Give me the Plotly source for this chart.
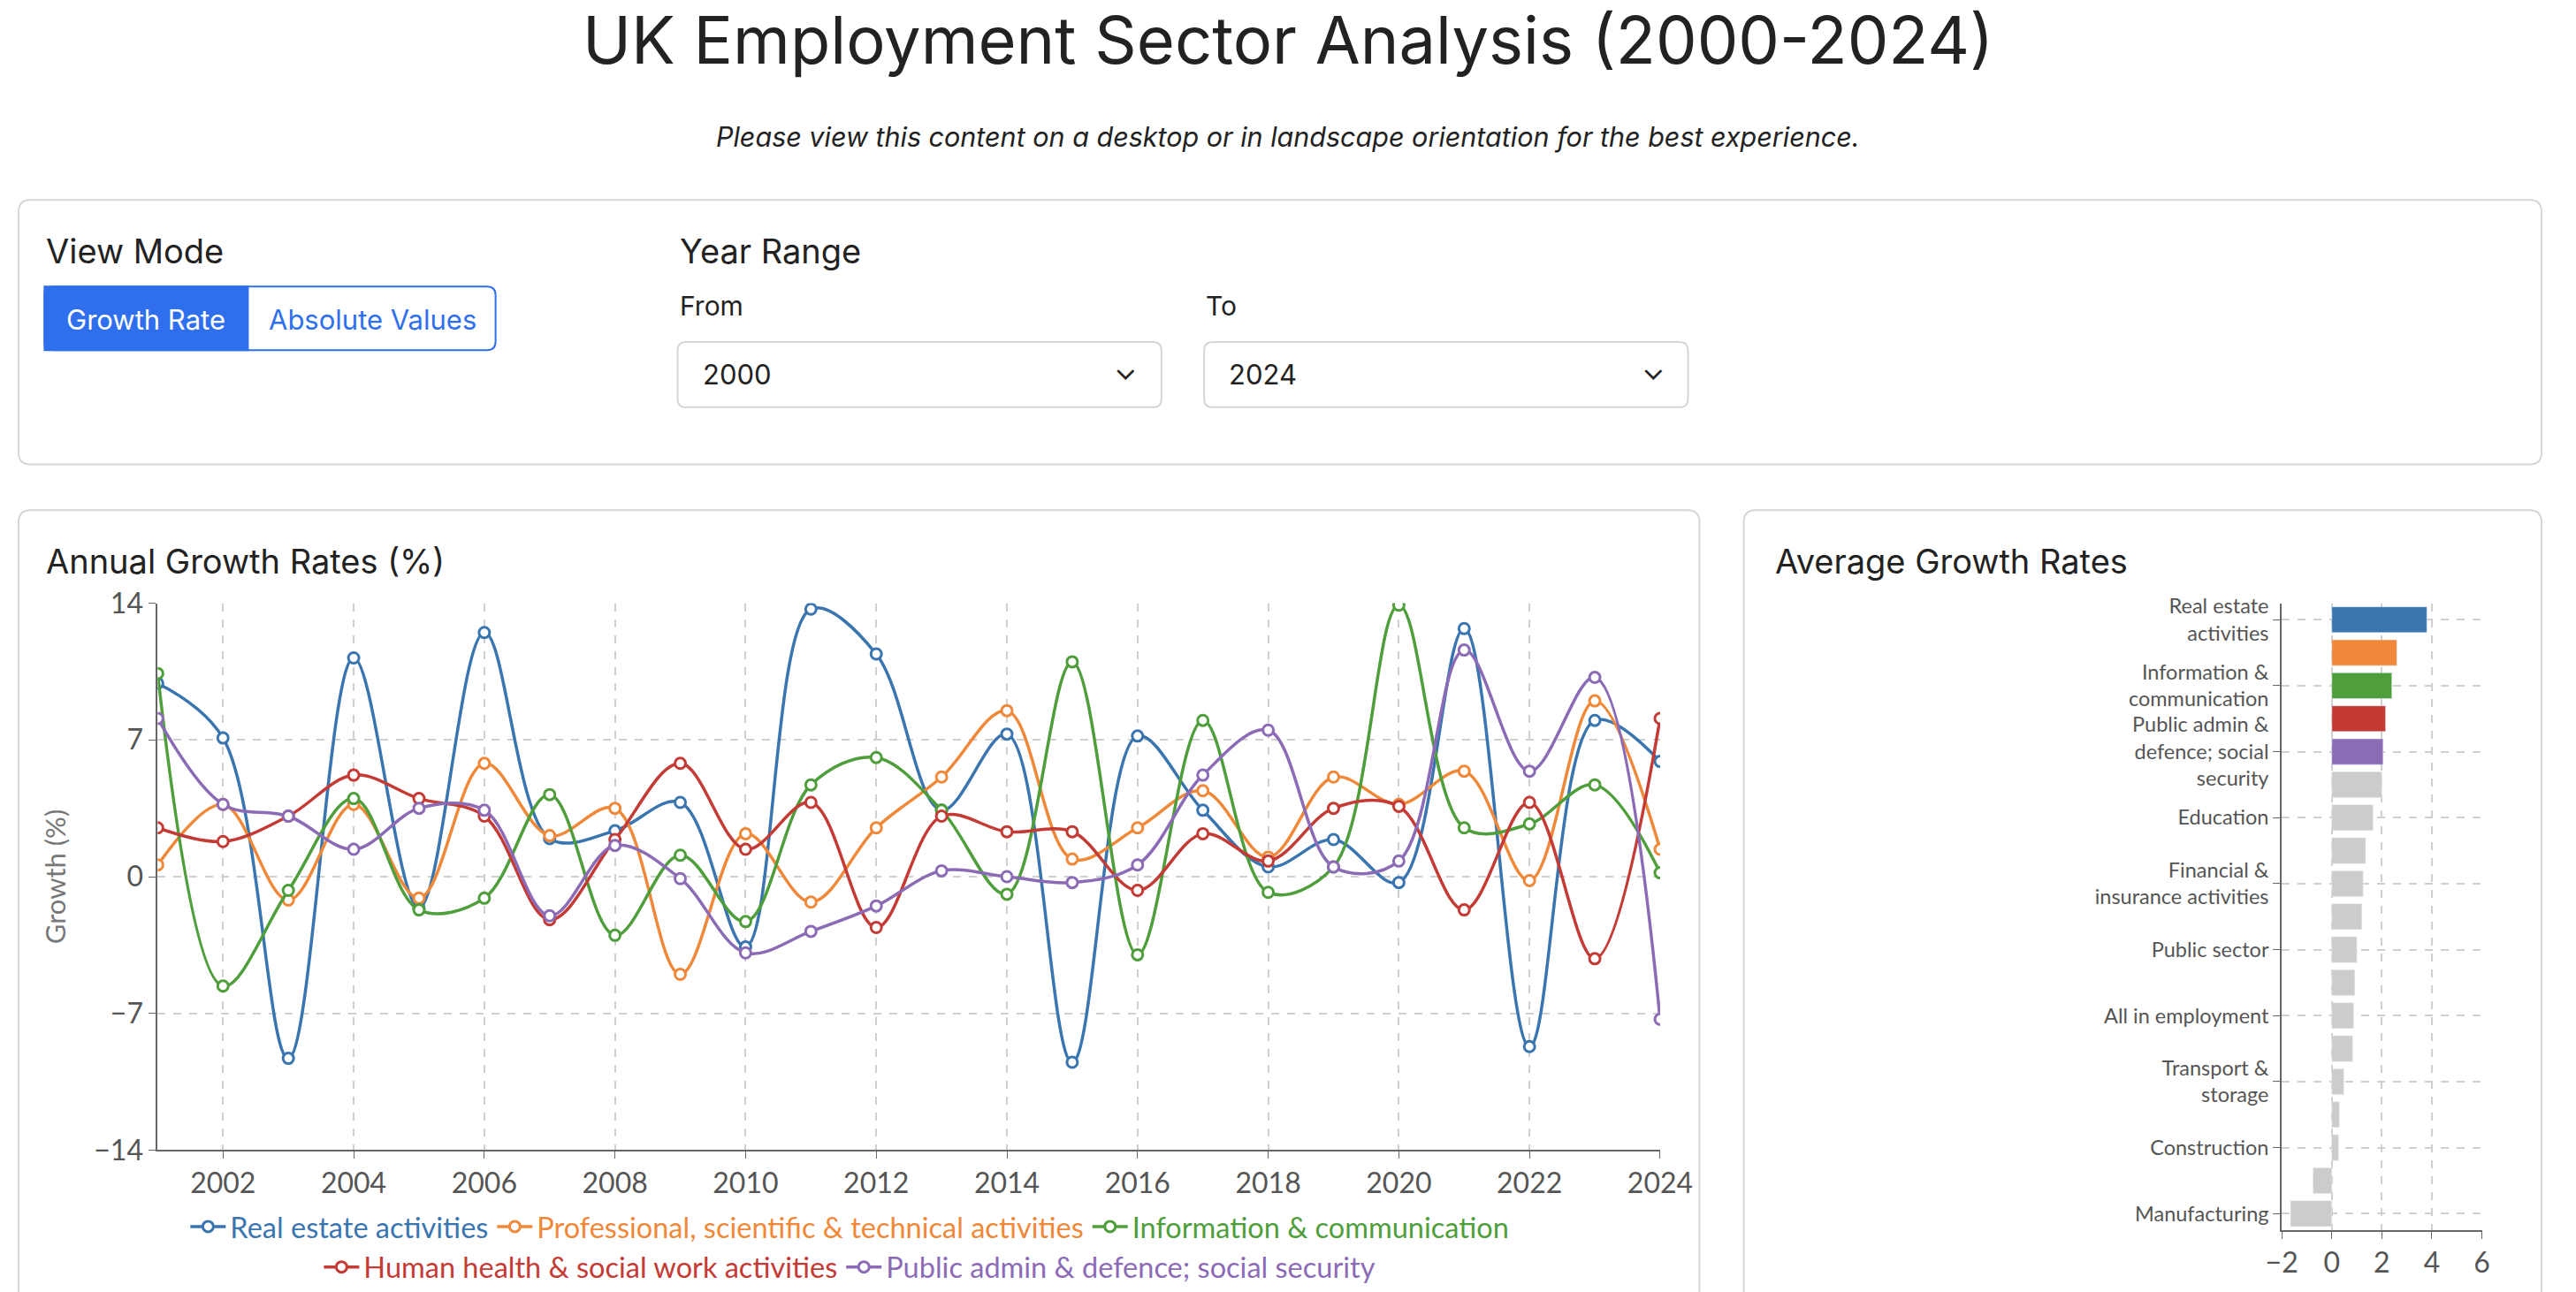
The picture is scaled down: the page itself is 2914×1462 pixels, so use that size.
import plotly.graph_objects as go

years = list(range(2001, 2025))
series_names = ["Real estate activities", "Professional, scientific & technical activities",
                "Information & communication", "Human health & social work activities",
                "Public admin & defence; social security"]
colors = ["#3a75b0", "#f0883a", "#4f9e3c", "#c43a35", "#8c6bb6"]
real_estate = [9.9, 7.1, -9.3, 11.2, -1.6, 12.5, 1.95, 2.35, 3.8, -3.6, 13.7, 11.4,
               3.4, 7.3, -9.5, 7.2, 3.4, 0.5, 1.9, -0.3, 12.7, -8.7, 8.0, 5.9]
professional = [0.6, 3.7, -1.2, 3.7, -1.1, 5.8, 2.1, 3.5, -5.0, 2.2, -1.3, 2.5,
                5.1, 8.5, 0.9, 2.5, 4.4, 1.0, 5.1, 3.7, 5.4, -0.2, 9.0, 1.4]
information = [10.4, -5.6, -0.7, 4.0, -1.7, -1.1, 4.2, -3.0, 1.1, -2.3, 4.7, 6.1,
               3.4, -0.9, 11.0, -4.0, 8.0, -0.8, 0.5, 13.9, 2.5, 2.7, 4.7, 0.2]
health = [2.5, 1.8, 3.1, 5.2, 4.0, 3.1, -2.2, 1.9, 5.8, 1.4, 3.8, -2.6,
          3.1, 2.3, 2.3, -0.7, 2.2, 0.8, 3.5, 3.6, -1.7, 3.8, -4.2, 8.1]
public_admin = [8.1, 3.7, 3.1, 1.4, 3.5, 3.4, -2.0, 1.6, -0.1, -3.9, -2.8, -1.5,
                0.3, 0.0, -0.3, 0.6, 5.2, 7.5, 0.5, 0.8, 11.6, 5.4, 10.2, -7.3]
series_values = [real_estate, professional, information, health, public_admin]

bar_categories = ["Real estate activities", "Professional, scientific & technical activities",
                  "Information & communication", "Human health & social work activities",
                  "Public admin & defence; social security", "Administrative & support services",
                  "Education", "Accommodation & food services", "Financial & insurance activities",
                  "Arts, entertainment & recreation", "Public sector", "Private sector",
                  "All in employment", "Wholesale & retail trade", "Transport & storage",
                  "Other service activities", "Construction", "Agriculture, forestry & fishing",
                  "Manufacturing"]
bar_values = [3.8, 2.6, 2.4, 2.15, 2.05, 2.0, 1.65, 1.35, 1.25, 1.2, 1.0, 0.92,
              0.87, 0.83, 0.48, 0.3, 0.27, -0.75, -1.65]
bar_shown_labels = {"Real estate activities": "Real estate<br>activities",
                    "Information & communication": "Information &<br>communication",
                    "Public admin & defence; social security": "Public admin &<br>defence; social<br>security",
                    "Education": "Education",
                    "Financial & insurance activities": "Financial &<br>insurance activities",
                    "Public sector": "Public sector",
                    "All in employment": "All in employment",
                    "Transport & storage": "Transport &<br>storage",
                    "Construction": "Construction",
                    "Manufacturing": "Manufacturing"}

# layout helpers: coordinates given in preview units, converted to paper fractions
W, H = 2914, 1462
def FX(d): return min(max((d - 9.1) / 0.5286, 2), W - 2)
def FY(d): return min(max((d - 9.9) / 0.525, 2), H + 60)
def px(d): return FX(d) / W
def py(d): return 1 - FY(d) / H

fig = go.Figure()
for i, (name, vals) in enumerate(zip(series_names, series_values)):
    fig.add_trace(go.Scatter(
        x=years, y=vals, mode="lines+markers", line=dict(color=colors[i], width=3.5, shape="spline", smoothing=1.0),
        marker=dict(symbol="circle", size=12, color="white", line=dict(color=colors[i], width=3)),
        name=f"<span style='color:{colors[i]}'>{name}</span>",
        legend="legend" if i < 3 else "legend2", xaxis="x", yaxis="y"))

bar_colors = colors + ["#cccccc"] * (len(bar_values) - 5)
fig.add_trace(go.Bar(x=bar_values, y=bar_categories, orientation="h", marker=dict(color=bar_colors),
                     width=0.78, xaxis="x2", yaxis="y2", showlegend=False))

grid = dict(showgrid=True, gridcolor="#cfcfcf", griddash="dash", gridwidth=1.5)
fig.update_layout(
    autosize=True, margin=dict(l=0, r=0, t=0, b=0),
    paper_bgcolor="white", plot_bgcolor="white",
    font=dict(family="Lato, Open Sans, sans-serif", color="#555"),
    xaxis=dict(domain=[px(95), px(1011)], range=[2001, 2024], tickvals=list(range(2002, 2025, 2)),
               tickfont=dict(size=32, color="#555"), ticks="outside", ticklen=8, tickcolor="#666",
               showline=True, linecolor="#666", linewidth=2, anchor="y", zeroline=False, **grid),
    yaxis=dict(domain=[py(703), py(368)], range=[-14, 14], tickvals=[-14, -7, 0, 7, 14],
               tickfont=dict(size=32, color="#555"), ticks="outside", ticklen=8, tickcolor="#666",
               showline=True, linecolor="#666", linewidth=2, anchor="x", zeroline=False,
               title=dict(text="Growth (%)", font=dict(size=31, color="#777"), standoff=22), **grid),
    xaxis2=dict(domain=[px(1390), px(1512)], range=[-2, 6], tickvals=[-2, 0, 2, 4, 6],
                tickfont=dict(size=32, color="#555"), ticks="outside", ticklen=8, tickcolor="#666",
                showline=True, linecolor="#666", linewidth=2, anchor="y2", zeroline=False, **grid),
    yaxis2=dict(domain=[py(752), py(368)], autorange="reversed", categoryorder="array",
                categoryarray=bar_categories, tickvals=list(bar_shown_labels.keys()),
                ticktext=list(bar_shown_labels.values()), tickfont=dict(size=23.5, color="#555"),
                ticks="outside", ticklen=8, tickcolor="#666", showline=True, linecolor="#666",
                linewidth=2, anchor="x2", **grid),
    legend=dict(orientation="h", x=px(517), xanchor="center", y=py(750), yanchor="middle",
                font=dict(size=32.5), bgcolor="rgba(0,0,0,0)", itemwidth=40),
    legend2=dict(orientation="h", x=px(517), xanchor="center", y=py(775), yanchor="middle",
                 font=dict(size=32.5), bgcolor="rgba(0,0,0,0)", itemwidth=40),
)

def rrect(x0, y0, x1, y1, r=14, line="#d6d6d6", fill="rgba(0,0,0,0)", width=2):
    a0, a1 = px(x0), px(x1); b0, b1 = py(y0), py(y1)
    rx, ry = r / W, r / H
    path = (f"M{a0+rx},{b0} L{a1-rx},{b0} Q{a1},{b0} {a1},{b0-ry} L{a1},{b1+ry} Q{a1},{b1} {a1-rx},{b1} "
            f"L{a0+rx},{b1} Q{a0},{b1} {a0},{b1+ry} L{a0},{b0-ry} Q{a0},{b0} {a0+rx},{b0} Z")
    fig.add_shape(type="path", path=path, xref="paper", yref="paper", line=dict(color=line, width=width),
                  fillcolor=fill, layer="below")

rrect(8, 121, 1561, 283)
rrect(8, 311, 1035, 830)
rrect(1062, 311, 1561, 830)
rrect(412, 208, 707, 248, r=10)
rrect(733, 208, 1028, 248, r=10)
rrect(26, 174, 301, 213, r=10, line="#2f6fed", width=2)
fig.add_shape(type="rect", xref="paper", yref="paper", x0=px(26), x1=px(150), y0=py(213), y1=py(174),
              fillcolor="#2f6fed", line=dict(color="#2f6fed", width=2), layer="below")

def txt(x, y, s, size, color="#222", anchor="left", family="Inter, sans-serif", **kw):
    fig.add_annotation(x=px(x), y=py(y), xref="paper", yref="paper", text=s, showarrow=False,
                       xanchor=anchor, yanchor="middle", font=dict(size=size, color=color, family=family), **kw)

txt(784, 23, "UK Employment Sector Analysis (2000-2024)", 74, anchor="center")
txt(784, 82, "<i>Please view this content on a desktop or in landscape orientation for the best experience.</i>", 30.5, anchor="center")
txt(26, 152, "View Mode", 38)
txt(88, 194, "Growth Rate", 31, color="white", anchor="center")
txt(226, 194, "Absolute Values", 31, color="#2f6fed", anchor="center")
txt(412, 152, "Year Range", 38)
txt(412, 186, "From", 30)
txt(733, 186, "To", 30)
txt(426, 228, "2000", 31)
txt(747, 228, "2024", 31)
txt(685, 228, "&#8964;", 34, anchor="center", yshift=6)
txt(1007, 228, "&#8964;", 34, anchor="center", yshift=6)
txt(26, 342, "Annual Growth Rates (%)", 38)
txt(1080, 342, "Average Growth Rates", 38)

fig.write_html("out.html", default_width="100vw", default_height="100vh",
               config={"displayModeBar": False, "responsive": True})
with open("out.html", encoding="utf-8") as f:
    html = f.read()
html = html.replace("<head>", "<head><style>html,body{margin:0;padding:0;overflow:hidden;}</style>", 1)
with open("out.html", "w", encoding="utf-8") as f:
    f.write(html)
